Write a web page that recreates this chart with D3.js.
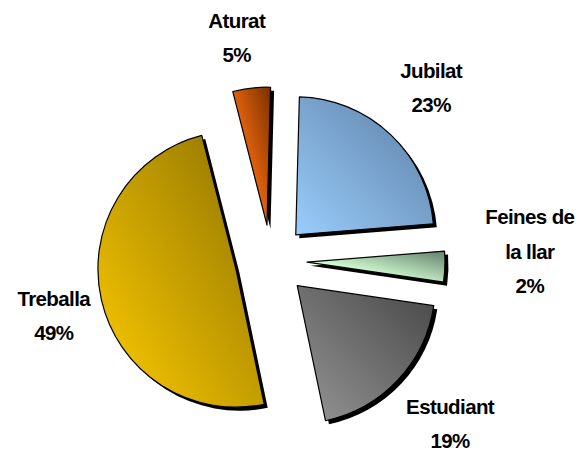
<!DOCTYPE html>
<html>
<head>
<meta charset="utf-8">
<script src="https://cdn.jsdelivr.net/npm/d3@7"></script>
<style>
	body { margin: 0; background: #fff; }
	.label { font-family: "Liberation Sans", Arial, sans-serif; font-weight: bold; font-size: 20.5px; letter-spacing: -0.6px; fill: #000; }
</style>
</head>
<body>
<script>
/* Data. */
let categories = ['Jubilat', 'Feines de la llar', 'Estudiant', 'Treballa', 'Aturat'];
let labelLines = [['Jubilat'], ['Feines de', 'la llar'], ['Estudiant'], ['Treballa'], ['Aturat']];
let percentLabels = ['23%', '2%', '19%', '49%', '5%'];
// shares as drawn in the picture (slice angles)
let shares = [23.3, 3.6, 19.4, 49.3, 4.4];
let lightColors = ['#9acdfc', '#d4ffd4', '#969696', '#ffcc00', '#ff7010'];
let darkColors = ['#5a7ca2', '#62806a', '#474747', '#8a7000', '#7a3000'];

/* Layout. */
const width = 588;
const height = 453;
const center = [271, 261];
const radius = 138;
const explode = 36;
const shadowOffset = 3.5;
const lineHeight = 34.5;
const capHeight = 14.6;
// where the light colour stops before fading to dark
const lightStop = [0, 0.35, 0, 0, 0.3];
// distance and angle nudge (degrees) of each label block from the pie centre
const labelDist = [236, 259, 242, 224, 226];
const labelTurn = [-0.7, -4, -1, -1, -2.3];

/**
 * Creates the exploded pie chart.
 */
function createPieChart() {
	let svg = d3.select('body').append('svg')
		.attr('width', width)
		.attr('height', height);

	let defs = svg.append('defs');
	categories.forEach(function(_, index) {
		let gradient = defs.append('linearGradient')
			.attr('id', 'grad-' + index)
			.attr('x1', 0).attr('y1', 1)
			.attr('x2', 1).attr('y2', 0);
		gradient.append('stop').attr('offset', lightStop[index]).attr('stop-color', lightColors[index]);
		gradient.append('stop').attr('offset', 1).attr('stop-color', darkColors[index]);
	});

	let start = 1.5 * Math.PI / 180;
	let pie = d3.pie()
		.sort(null)
		.value(function(d) { return d; })
		.startAngle(start)
		.endAngle(start + 2 * Math.PI);
	let arc = d3.arc()
		.innerRadius(0)
		.outerRadius(radius);

	let arcs = pie(shares);
	let root = svg.append('g')
		.attr('transform', 'translate(' + center[0] + ',' + center[1] + ')');

	/* Slices with shadow. */
	let slices = root.selectAll('.slice')
			.data(arcs)
		.enter().append('g')
			.attr('class', 'slice')
			.attr('transform', function(d) {
				let mid = (d.startAngle + d.endAngle) / 2;
				return 'translate(' + explode * Math.sin(mid) + ',' + (-explode * Math.cos(mid)) + ')';
			});

	slices.append('path')
		.attr('d', arc)
		.attr('transform', 'translate(' + shadowOffset + ',' + shadowOffset + ')')
		.attr('fill', '#000');

	slices.append('path')
		.attr('d', arc)
		.attr('fill', function(_, index) { return 'url(#grad-' + index + ')'; })
		.attr('stroke', '#000')
		.attr('stroke-width', 1.2)
		.attr('stroke-linejoin', 'round');

	/* Labels. */
	let labels = root.selectAll('.label-block')
			.data(arcs)
		.enter().append('text')
			.attr('class', 'label')
			.attr('text-anchor', 'middle');

	labels.each(function(d, index) {
		let mid = (d.startAngle + d.endAngle) / 2 + labelTurn[index] * Math.PI / 180;
		let cx = labelDist[index] * Math.sin(mid);
		let cy = -labelDist[index] * Math.cos(mid);
		let lines = labelLines[index].concat([percentLabels[index]]);
		let blockHeight = (lines.length - 1) * lineHeight + capHeight;
		let firstBaseline = cy - blockHeight / 2 + capHeight;
		d3.select(this).selectAll('tspan')
				.data(lines)
			.enter().append('tspan')
				.attr('x', cx)
				.attr('y', function(_, i) { return firstBaseline + i * lineHeight; })
				.text(function(line) { return line; });
	});
}

window.onload = function() {
	createPieChart();
};
</script>
</body>
</html>
